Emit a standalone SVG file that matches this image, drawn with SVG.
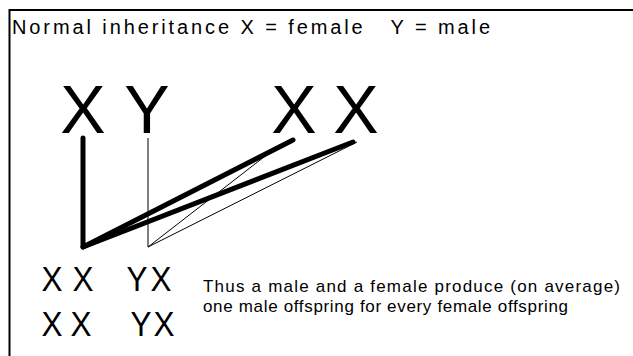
<svg xmlns="http://www.w3.org/2000/svg" width="633" height="356" viewBox="0 0 633 356">
<style>
text{font-family:"Liberation Sans",Arial,sans-serif;fill:#000}
.big{font-size:68px;text-anchor:middle}
.mid{font-size:35px;text-anchor:middle}
.small{font-size:17px}
.head{font-size:20px;white-space:pre}
.thick{stroke:#000;stroke-width:5;fill:none;stroke-linecap:round;stroke-linejoin:round}
.thin{stroke:#000;stroke-width:1;fill:none}
</style>
<rect x="0" y="0" width="633" height="356" fill="#fff"/>
<path d="M9.5,356 V10 H633" fill="none" stroke="#000" stroke-width="2"/>
<g id="title"><text class="head" x="12" y="34" xml:space="preserve" textLength="478" lengthAdjust="spacing">Normal inheritance X = female   Y = male</text></g>
<g id="father"><text class="big" x="83" y="133">X</text><text class="big" x="147" y="133">Y</text></g>
<g id="mother"><text class="big" x="294" y="133">X</text><text class="big" x="356" y="133">X</text></g>
<g id="connectors">
<path class="thick" d="M83,138 V247 L293,140"/>
<path class="thick" d="M83,247 L353,142"/>
<path class="thin" d="M148,138 V247 L273,150"/>
<path class="thin" d="M148,247 L357,142"/>
</g>
<g id="offspring">
<text class="mid" x="52" y="291" textLength="21" lengthAdjust="spacingAndGlyphs">X</text>
<text class="mid" x="83" y="291" textLength="21" lengthAdjust="spacingAndGlyphs">X</text>
<text class="mid" x="137" y="291" textLength="21" lengthAdjust="spacingAndGlyphs">Y</text>
<text class="mid" x="161" y="291" textLength="21" lengthAdjust="spacingAndGlyphs">X</text>
<text class="mid" x="52" y="336" textLength="21" lengthAdjust="spacingAndGlyphs">X</text>
<text class="mid" x="81" y="336" textLength="21" lengthAdjust="spacingAndGlyphs">X</text>
<text class="mid" x="141" y="336" textLength="21" lengthAdjust="spacingAndGlyphs">Y</text>
<text class="mid" x="164" y="336" textLength="21" lengthAdjust="spacingAndGlyphs">X</text>
</g>
<g id="note">
<text class="small" x="203" y="292" textLength="417" lengthAdjust="spacing">Thus a male and a female produce (on average)</text>
<text class="small" x="203" y="312" textLength="365" lengthAdjust="spacing">one male offspring for every female offspring</text>
</g>
</svg>
